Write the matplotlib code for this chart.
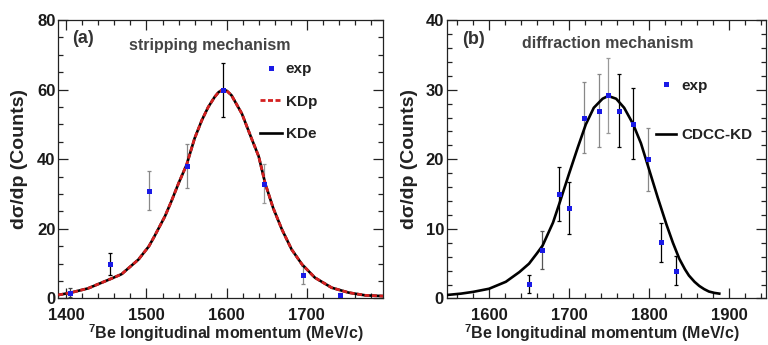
import matplotlib
matplotlib.use("Agg")
import matplotlib.pyplot as plt
from matplotlib.ticker import MultipleLocator

# --- (a) stripping mechanism ---
strip_p = [1405, 1454, 1503, 1550, 1595, 1646, 1695, 1741]
strip_counts = [1.7, 10.0, 31.0, 38.0, 60.0, 33.0, 6.7, 0.9]
strip_err = [1.2, 3.2, 5.7, 6.3, 7.8, 5.6, 2.6, 0.6]

# KDp and KDe curves coincide within reading precision
kd_p = [1390, 1406, 1427, 1454, 1469, 1490, 1503, 1510, 1523, 1531, 1540,
        1550, 1560, 1569, 1577, 1585, 1590, 1595, 1600, 1606, 1619, 1631,
        1640, 1648, 1658, 1669, 1681, 1694, 1710, 1731, 1752, 1773, 1795]
kd_curve = [1.0, 1.7, 2.9, 5.5, 7.0, 11.2, 15.0, 17.9, 23.6, 27.9, 33.1,
            38.4, 46.0, 51.2, 55.0, 57.9, 59.3, 60.0, 59.7, 58.4, 53.1, 46.0,
            40.8, 33.1, 26.0, 19.8, 14.1, 9.8, 6.0, 3.1, 1.7, 0.9, 0.7]

# --- (b) diffraction mechanism ---
diff_p = [1650, 1666, 1688, 1700, 1719, 1737, 1749, 1762, 1780, 1799, 1815, 1834]
diff_counts = [2.1, 7.0, 15.0, 13.0, 26.0, 27.0, 29.2, 27.0, 25.1, 20.0, 8.1, 4.0]
diff_err = [1.3, 2.7, 3.9, 3.7, 5.1, 5.3, 5.4, 5.3, 5.1, 4.5, 2.8, 2.1]

cdcc_p = [1547, 1565, 1580, 1600, 1621, 1638, 1650, 1660, 1667, 1680, 1689,
          1700, 1711, 1721, 1731, 1742, 1749, 1759, 1769, 1780, 1790, 1800,
          1811, 1822, 1830, 1838, 1845, 1850, 1857, 1863, 1869, 1875, 1882, 1888]
cdcc_curve = [0.5, 0.7, 0.95, 1.4, 2.4, 3.8, 5.0, 6.5, 7.6, 10.9, 14.0,
              17.9, 21.7, 25.0, 27.4, 28.7, 29.1, 28.7, 27.4, 25.1, 22.3, 18.6,
              14.5, 10.6, 8.0, 5.7, 4.2, 3.3, 2.4, 1.8, 1.35, 1.0, 0.8, 0.7]

# error bar shade per point (dark vs grey), as in the figure
shade_a = ["#444", "k", "#888", "#888", "k", "#999", "#888", "#444"]
shade_b = ["k", "#555", "k", "k", "#888", "#888", "#999", "k", "k", "#888", "k", "k"]

plt.rcParams["font.family"] = ["Liberation Sans", "DejaVu Sans"]
plt.rcParams["font.weight"] = "bold"
plt.rcParams["axes.labelweight"] = "bold"
plt.rcParams["mathtext.fontset"] = "custom"
plt.rcParams["mathtext.rm"] = "Liberation Sans:bold"
plt.rcParams["mathtext.bf"] = "Liberation Sans:bold"

BLUE = "#1a1ae6"
XLABEL = r"$^{7}$Be longitudinal momentum (MeV/c)"
YLABEL = "d\u03c3/dp (Counts)"

fig = plt.figure(figsize=(7.68, 3.45), dpi=100)
ax_a = fig.add_axes([0.0759, 0.1348, 0.4228, 0.807])
ax_b = fig.add_axes([0.5816, 0.1348, 0.4164, 0.807])


def style_axes(ax, xlim, ylim, xmaj, xmin, ymaj, ymin):
    ax.set_xlim(*xlim)
    ax.set_ylim(*ylim)
    ax.xaxis.set_major_locator(MultipleLocator(xmaj))
    ax.xaxis.set_minor_locator(MultipleLocator(xmin))
    ax.yaxis.set_major_locator(MultipleLocator(ymaj))
    ax.yaxis.set_minor_locator(MultipleLocator(ymin))
    ax.tick_params(which="both", direction="in", top=True, right=True,
                   color="#222", width=0.9)
    ax.tick_params(which="major", length=7, labelsize=12,
                   labelcolor="#1a1a1a")
    ax.tick_params(axis="x", which="major", pad=6.5)
    ax.tick_params(axis="y", which="major", pad=2)
    ax.tick_params(which="minor", length=3.5)
    for sp in ax.spines.values():
        sp.set_color("#222")
        sp.set_linewidth(0.9)
    ax.set_xlabel(XLABEL, fontsize=11.5, color="#222", fontweight="bold")
    ax.set_ylabel(YLABEL, fontsize=14, color="#222", fontweight="bold")
    ax.xaxis.label.set_va("center")
    ax.yaxis.label.set_va("center")


def draw_points(ax, x, y, err, shades):
    for xi, yi, ei, c in zip(x, y, err, shades):
        ax.errorbar(xi, yi, yerr=ei, fmt="none", ecolor=c, elinewidth=0.9,
                    capsize=1.6, capthick=0.9, zorder=2)
    return ax.plot(x, y, "s", color=BLUE, ms=3.6, mew=0, zorder=4)[0]


# (a)
style_axes(ax_a, (1390, 1795), (0, 80), 100, 20, 20, 5)
kde, = ax_a.plot(kd_p, kd_curve, color="k", lw=1.9, zorder=3)
kdp, = ax_a.plot(kd_p, kd_curve, color="#d42020", lw=2.0, dashes=(1.8, 0.9),
                 zorder=3.5)
pts_a = draw_points(ax_a, strip_p, strip_counts, strip_err, shade_a)
ax_a.legend([pts_a, kdp, kde], ["exp", "KDp", "KDe"], loc="upper left",
            bbox_to_anchor=(0.62, 0.848), frameon=False, fontsize=11,
            handlelength=1.45, handletextpad=0.25, labelspacing=1.2,
            borderpad=0, borderaxespad=0, labelcolor="#222")
ax_a.text(0.044, 0.935, "(a)", transform=ax_a.transAxes, fontsize=13,
          va="center", ha="left", color="#333")
ax_a.text(0.467, 0.908, "stripping mechanism", transform=ax_a.transAxes,
          fontsize=11.5, va="center", ha="center", color="#444")
ax_a.xaxis.set_label_coords(0.515, -0.125)
ax_a.yaxis.set_label_coords(-0.118, 0.5)

# (b)
style_axes(ax_b, (1547, 1947), (0, 40), 100, 20, 10, 2)
cdcc, = ax_b.plot(cdcc_p, cdcc_curve, color="k", lw=1.9, zorder=3)
pts_b = draw_points(ax_b, diff_p, diff_counts, diff_err, shade_b)
ax_b.legend([pts_b, cdcc], ["exp", "CDCC-KD"], loc="upper left",
            bbox_to_anchor=(0.654, 0.79), frameon=False, fontsize=11,
            handlelength=1.3, handletextpad=0.4, labelspacing=2.35,
            borderpad=0, borderaxespad=0, labelcolor="#222")
ax_b.text(0.047, 0.929, "(b)", transform=ax_b.transAxes, fontsize=13,
          va="center", ha="left", color="#333")
ax_b.text(0.505, 0.915, "diffraction mechanism", transform=ax_b.transAxes,
          fontsize=11.5, va="center", ha="center", color="#444")
ax_b.xaxis.set_label_coords(0.485, -0.125)
ax_b.yaxis.set_label_coords(-0.115, 0.5)

fig.savefig("out.png", dpi=100)
